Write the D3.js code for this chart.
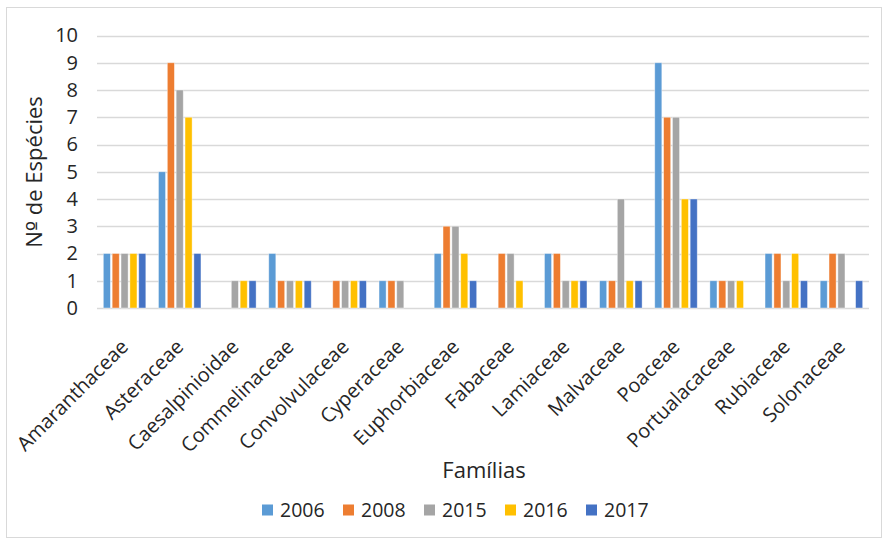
<!DOCTYPE html>
<html>
<head>
<meta charset="utf-8">
<script src="https://cdn.jsdelivr.net/npm/d3@7"></script>
<style>
  html, body { margin: 0; padding: 0; background: #fff; }
  svg text { font-family: "Open Sans", Lato, sans-serif; fill: #262626; }
</style>
</head>
<body>
<svg id="chart" width="887" height="542"></svg>
<script>
const familias = ["Amaranthaceae", "Asteraceae", "Caesalpinioidae", "Commelinaceae", "Convolvulaceae",
  "Cyperaceae", "Euphorbiaceae", "Fabaceae", "Lamiaceae", "Malvaceae", "Poaceae",
  "Portualacaceae", "Rubiaceae", "Solonaceae"];
const anos = ["2006", "2008", "2015", "2016", "2017"];
const v2006 = [2, 5, 0, 2, 0, 1, 2, 0, 2, 1, 9, 1, 2, 1];
const v2008 = [2, 9, 0, 1, 1, 1, 3, 2, 2, 1, 7, 1, 2, 2];
const v2015 = [2, 8, 1, 1, 1, 1, 3, 2, 1, 4, 7, 1, 1, 2];
const v2016 = [2, 7, 1, 1, 1, 0, 2, 1, 1, 1, 4, 1, 2, 0];
const v2017 = [2, 2, 1, 1, 1, 0, 1, 0, 1, 1, 4, 0, 1, 1];
const yTicks = [0, 1, 2, 3, 4, 5, 6, 7, 8, 9, 10];
const cores = ["#5B9BD5", "#ED7D31", "#A5A5A5", "#FFC000", "#4472C4"];

const series = [v2006, v2008, v2015, v2016, v2017];
const svg = d3.select("#chart");

// chart frame
svg.append("rect").attr("x", 6.5).attr("y", 7.5).attr("width", 875).attr("height", 530)
  .attr("fill", "#fff").attr("stroke", "#d9d9d9").attr("stroke-width", 1);

const plot = { left: 97, right: 869, top: 35.5, bottom: 308 };

const x = d3.scaleBand().domain(familias).range([plot.left, plot.right]).paddingInner(0).paddingOuter(0);
const groupW = 42.5;
const xs = d3.scaleBand().domain(anos).range([0, groupW]).paddingInner(0.2).paddingOuter(0);
const y = d3.scaleLinear().domain([0, 10]).range([plot.bottom, plot.top]);

// gridlines
svg.append("g").selectAll("line").data(yTicks).join("line")
  .attr("x1", plot.left).attr("x2", plot.right)
  .attr("y1", d => Math.round(y(d)) + 0.5).attr("y2", d => Math.round(y(d)) + 0.5)
  .attr("stroke", "#d9d9d9").attr("stroke-width", 1.3);

// y axis labels
const yAxis = d3.axisLeft(y).tickValues(yTicks).tickSize(0).tickPadding(19);
const gy = svg.append("g").attr("transform", `translate(${plot.left},0)`).call(yAxis);
gy.select(".domain").remove();
gy.selectAll("text").attr("font-size", 20).attr("font-family", "'Open Sans', Lato, sans-serif").attr("fill", "#262626");

// bars
const rows = familias.map((f, i) => ({ familia: f, valores: series.map((s, k) => ({ ano: anos[k], v: s[i], cor: cores[k] })) }));
const grupos = svg.append("g").selectAll("g").data(rows).join("g")
  .attr("transform", d => `translate(${x(d.familia) + (x.bandwidth() - groupW) / 2},0)`);
grupos.selectAll("rect").data(d => d.valores.filter(e => e.v > 0)).join("rect")
  .attr("x", d => xs(d.ano))
  .attr("width", xs.bandwidth())
  .attr("y", d => y(d.v))
  .attr("height", d => y(0) - y(d.v))
  .attr("fill", d => d.cor)
  .attr("stroke", "#fff").attr("stroke-opacity", 0.5).attr("stroke-width", 0.8);

// x axis labels, rotated 45 degrees and anchored at their end
const xAxis = d3.axisBottom(x).tickSize(0).tickPadding(0);
const gx = svg.append("g").attr("transform", `translate(0,${plot.bottom})`).call(xAxis);
gx.select(".domain").remove();
gx.selectAll("text")
  .attr("font-size", 20).attr("font-family", "'Open Sans', Lato, sans-serif").attr("fill", "#262626")
  .attr("text-anchor", "end").attr("x", 0).attr("y", 0).attr("dy", 0)
  .attr("transform", "translate(5,40) rotate(-45)");

// axis titles
svg.append("text").attr("x", 484).attr("y", 478).attr("text-anchor", "middle")
  .attr("font-size", 22).text("Famílias");
const yTitle = svg.append("text").attr("transform", "translate(42,172) rotate(-90)").attr("text-anchor", "middle")
  .attr("font-size", 22);
yTitle.append("tspan").text("N");
yTitle.append("tspan").attr("font-family", "'DejaVu Sans', sans-serif").text("º");
yTitle.append("tspan").text(" de Espécies");

// legend
const legend = svg.append("g").attr("transform", "translate(262,510)");
const li = legend.selectAll("g").data(anos).join("g")
  .attr("transform", (d, i) => `translate(${i * 81},0)`);
li.append("rect").attr("x", 0).attr("y", -5.5).attr("width", 11).attr("height", 11)
  .attr("fill", (d, i) => cores[i]);
li.append("text").attr("x", 18).attr("y", 0).attr("dy", "0.36em")
  .attr("font-size", 19.5).text(d => d);
</script>
</body>
</html>
